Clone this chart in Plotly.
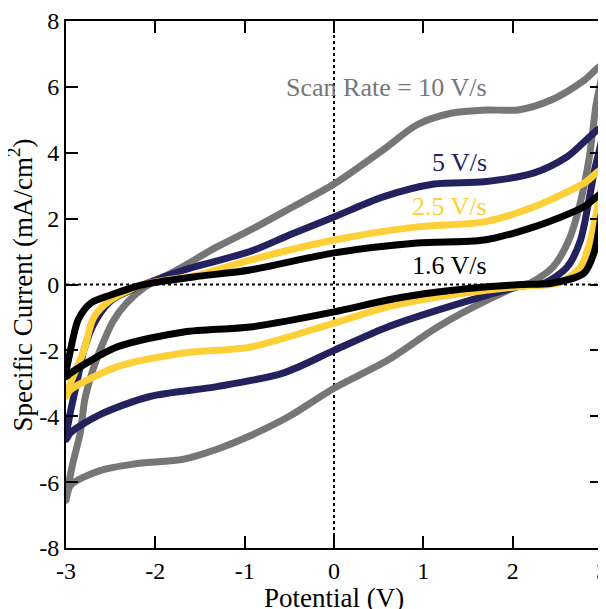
import plotly.graph_objects as go

# Cyclic voltammograms: potential (V) and specific current (mA/cm^2), one closed loop each
x_10 = [-3.0, -2.93, -2.84, -2.79, -2.70, -2.62, -2.47, -2.32, -2.13, -1.76, -1.31, -0.94, -0.5, 0.0, 0.55, 0.93, 1.31, 1.7, 2.06, 2.43, 2.8, 3.0,
        2.93, 2.86, 2.75, 2.63, 2.45, 2.2, 2.09, 1.72, 1.16, 0.6, 0.0, -0.5, -0.97, -1.31, -1.68, -2.24, -2.62, -2.95, -3.0]
y_10 = [-6.55, -5.5, -4.5, -3.5, -2.6, -2.0, -1.1, -0.56, -0.1, 0.44, 1.14, 1.65, 2.3, 3.05, 4.09, 4.85, 5.2, 5.3, 5.3, 5.6, 6.2, 6.65,
        5.4, 3.9, 2.4, 1.35, 0.53, 0.05, -0.02, -0.47, -1.29, -2.3, -3.15, -4.0, -4.63, -5.0, -5.3, -5.45, -5.65, -6.1, -6.55]

x_5 = [-3.0, -2.96, -2.88, -2.8, -2.69, -2.5, -2.17, -1.68, -0.94, -0.5, 0.0, 0.55, 1.12, 1.68, 2.24, 2.61, 3.0,
       2.91, 2.84, 2.76, 2.61, 2.35, 2.09, 1.72, 1.16, 0.6, 0.0, -0.57, -1.31, -2.06, -2.62, -2.95, -3.0]
y_5 = [-4.7, -4.0, -3.0, -2.0, -1.2, -0.5, -0.05, 0.44, 1.0, 1.5, 2.05, 2.66, 3.05, 3.12, 3.39, 3.88, 4.75,
       3.39, 2.36, 1.35, 0.53, 0.04, -0.05, -0.32, -0.78, -1.29, -2.0, -2.69, -3.1, -3.4, -3.95, -4.5, -4.7]

x_25 = [-3.0, -2.95, -2.8, -2.69, -2.5, -2.13, -1.5, -0.94, 0.0, 0.93, 1.68, 2.24, 2.8, 3.0,
        2.95, 2.87, 2.76, 2.5, 2.1, 1.72, 1.16, 0.6, 0.0, -0.94, -1.68, -2.43, -2.95, -3.0]
y_25 = [-3.4, -3.0, -2.0, -1.0, -0.47, 0.0, 0.3, 0.74, 1.35, 1.75, 1.9, 2.36, 3.08, 3.48,
        2.36, 1.35, 0.53, 0.04, -0.05, -0.17, -0.38, -0.68, -1.17, -1.9, -2.08, -2.5, -3.2, -3.4]

x_16 = [-3.0, -2.95, -2.86, -2.72, -2.5, -2.13, -1.57, -0.94, 0.0, 0.93, 1.68, 2.24, 2.8, 3.0,
        2.97, 2.91, 2.8, 2.43, 2.09, 1.72, 1.16, 0.6, 0.0, -0.94, -1.68, -2.43, -2.95, -3.0]
y_16 = [-2.8, -2.0, -1.05, -0.56, -0.32, 0.0, 0.23, 0.44, 0.96, 1.26, 1.35, 1.75, 2.36, 2.75,
        1.75, 0.96, 0.35, 0.04, 0.0, -0.07, -0.23, -0.47, -0.83, -1.29, -1.44, -1.9, -2.69, -2.8]

series_names = ["10 V/s", "5 V/s", "2.5 V/s", "1.6 V/s"]
series_x = [x_10, x_5, x_25, x_16]
series_y = [y_10, y_5, y_25, y_16]
colors = ["#767676", "#23225e", "#fdd038", "#000000"]

label_text = ["Scan Rate = 10 V/s", "5 V/s", "2.5 V/s", "1.6 V/s"]
label_x = [1.74, 1.74, 1.74, 1.74]
label_y = [5.97, 3.69, 2.36, 0.59]

x_ticks = [-3, -2, -1, 0, 1, 2, 3]
y_ticks = [-8, -6, -4, -2, 0, 2, 4, 6, 8]

x_title = "Potential (V)"
y_title = "Specific Current (mA/cm<sup>2</sup>)"

FONT = "Liberation Serif, Times New Roman, serif"

fig = go.Figure()
for name, xs, ys, c in zip(series_names, series_x, series_y, colors):
    fig.add_trace(go.Scatter(x=xs, y=ys, mode="lines", name=name, cliponaxis=False,
                             line=dict(color=c, width=7, shape="spline", smoothing=0.8),
                             showlegend=False, hoverinfo="skip"))

for t, lx, ly, c in zip(label_text, label_x, label_y, colors):
    fig.add_annotation(x=lx, y=ly, text=t, showarrow=False, xanchor="right", yanchor="middle",
                       font=dict(family=FONT, size=26, color=c))

# axis titles placed as annotations for exact positioning
fig.add_annotation(x=0.5, y=-0.095, xref="paper", yref="paper", text=x_title, showarrow=False,
                   xanchor="center", yanchor="middle", font=dict(family=FONT, size=27, color="black"))
fig.add_annotation(x=-0.086, y=0.5, xref="paper", yref="paper", text=y_title, showarrow=False,
                   textangle=-90, xanchor="center", yanchor="middle",
                   font=dict(family=FONT, size=27, color="black"))

# dotted reference lines through zero
fig.add_shape(type="line", x0=0, x1=0, y0=-8, y1=8, xref="x", yref="y",
              line=dict(color="black", width=2, dash="dot"), layer="below")
fig.add_shape(type="line", x0=-3, x1=3, y0=0, y1=0, xref="x", yref="y",
              line=dict(color="black", width=2, dash="dot"), layer="below")

axis_common = dict(showgrid=False, zeroline=False, showline=True, linecolor="black", linewidth=2,
                   mirror="allticks", ticks="inside", ticklen=12, tickwidth=2, tickcolor="black",
                   automargin=False, ticklabeloverflow="allow",
                   tickfont=dict(family=FONT, size=24, color="black"))

fig.update_xaxes(range=[-3, 3], tickvals=x_ticks, ticktext=[str(v) for v in x_ticks], **axis_common)
fig.update_yaxes(range=[-8, 8], tickvals=y_ticks, ticktext=[str(v) for v in y_ticks], **axis_common)

# page body has an 8px default margin, so the figure is sized/margined to compensate
fig.update_layout(width=598, height=601, margin=dict(l=58, r=4, t=13, b=61),
                  plot_bgcolor="white", paper_bgcolor="white")

fig.write_html("out.html")
